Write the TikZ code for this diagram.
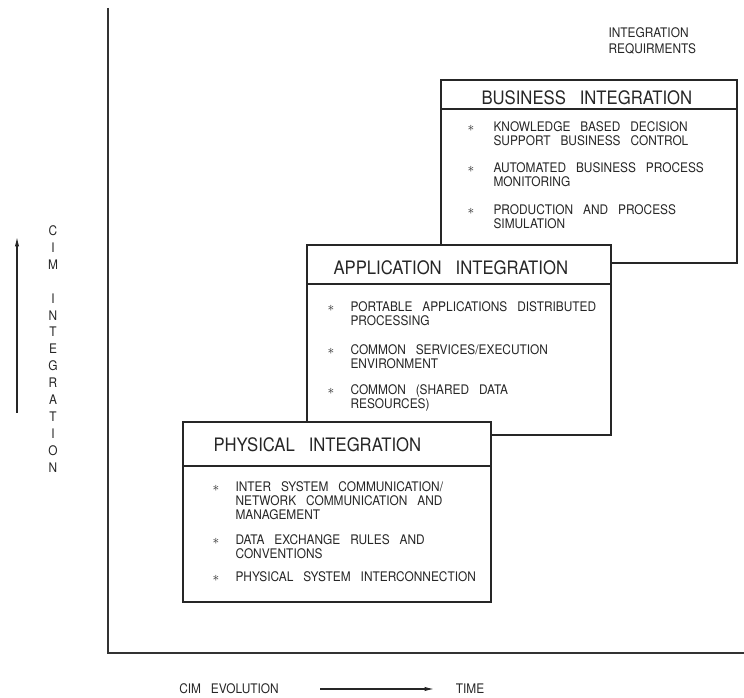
\documentclass[tikz,border=0pt]{standalone}
\usepackage{fontspec}
\setmainfont{TeX Gyre Heros}[FakeStretch=0.9,WordSpace=3]
\usetikzlibrary{positioning,arrows,arrows.meta}

\begin{document}
\begin{tikzpicture}[x=0.75pt,y=-0.75pt, line width=0.8pt, black!85]
\tikzstyle{panel}=[draw=black!85, fill=white, line width=0.9pt]
\tikzstyle{heading}=[font=\fontsize{13.9}{16}\selectfont, anchor=base west, inner sep=0pt]
\tikzstyle{item}=[font=\fontsize{9.9}{10.5}\selectfont, anchor=base west, align=left, inner sep=0pt]
\tikzstyle{bullet}=[font=\fontsize{9.9}{10.5}\selectfont, anchor=base west, inner sep=0pt]
\tikzstyle{label}=[font=\fontsize{9.9}{12}\selectfont, inner sep=0pt]
\useasboundingbox (0,0) rectangle (744,698);

% axes
\coordinate (ytop) at (108,8);
\coordinate (origin) at (108,653);
\coordinate (xend) at (744,653);
\draw[line width=1.1pt, black!80] (ytop) -- (origin) -- (xend);

% the three panels, back to front
\foreach \l/\t/\r/\b/\d in {441/80/737/263/109, 307/245/611/435/284, 183/422/491/602/466}{
  \draw[panel] (\l,\t) rectangle (\r,\b);
  \draw[panel] (\l,\d) -- (\r,\d);
}

\node[heading] (bus) at (481,105) {BUSINESS INTEGRATION};
\node[heading] (app) at (333,275) {APPLICATION INTEGRATION};
\node[heading] (phy) at (213,452) {PHYSICAL INTEGRATION};

% business items (base = last line)
\foreach \n/\y in {b1/132,b2/173,b3/215}{\node[bullet] (\n s) at (467,\y) {$\ast$};}
\node[item] (b1) at (493,146) {KNOWLEDGE BASED DECISION\\SUPPORT BUSINESS CONTROL};
\node[item] (b2) at (493,187) {AUTOMATED BUSINESS PROCESS\\MONITORING};
\node[item] (b3) at (493,229) {PRODUCTION AND PROCESS\\SIMULATION};

% application items
\foreach \n/\y in {a1/312,a2/355,a3/395}{\node[bullet] (\n s) at (327,\y) {$\ast$};}
\node[item] (a1) at (350,326) {PORTABLE APPLICATIONS DISTRIBUTED\\PROCESSING};
\node[item] (a2) at (350,369) {COMMON SERVICES/EXECUTION\\ENVIRONMENT};
\node[item] (a3) at (350,409) {COMMON (SHARED DATA\\RESOURCES)};

% physical items
\foreach \n/\y in {p1/492,p2/545,p3/582}{\node[bullet] (\n s) at (212,\y) {$\ast$};}
\node[item] (p1) at (235,520) {INTER SYSTEM COMMUNICATION/\\NETWORK COMMUNICATION AND\\MANAGEMENT};
\node[item] (p2) at (235,559) {DATA EXCHANGE RULES AND\\CONVENTIONS};
\node[item] (p3) at (235,582) {PHYSICAL SYSTEM INTERCONNECTION};

% requirements note
\node[label, align=left, anchor=north west] (req) at (608,27) {INTEGRATION\\REQUIRMENTS};

% vertical axis label
\node[label, align=center, font=\fontsize{9.9}{12.7}\selectfont] (cim) at (53,349)
  {C\\I\\M\\[12.7pt]I\\N\\T\\E\\G\\R\\A\\T\\I\\O\\N};
\coordinate (vbot) at (17,413);
\coordinate (vtop) at (17,237);
\draw[-{Latex[length=7pt,width=3.2pt]}] (vbot) -- (vtop);

% horizontal axis label
\node[label] (evo) at (229,689) {CIM EVOLUTION};
\node[label] (time) at (470,689) {TIME};
\coordinate (hbeg) at (320,689);
\coordinate (hend) at (434,689);
\draw[-{Latex[length=7pt,width=3.2pt]}] (hbeg) -- (hend);
\end{tikzpicture}
\end{document}
